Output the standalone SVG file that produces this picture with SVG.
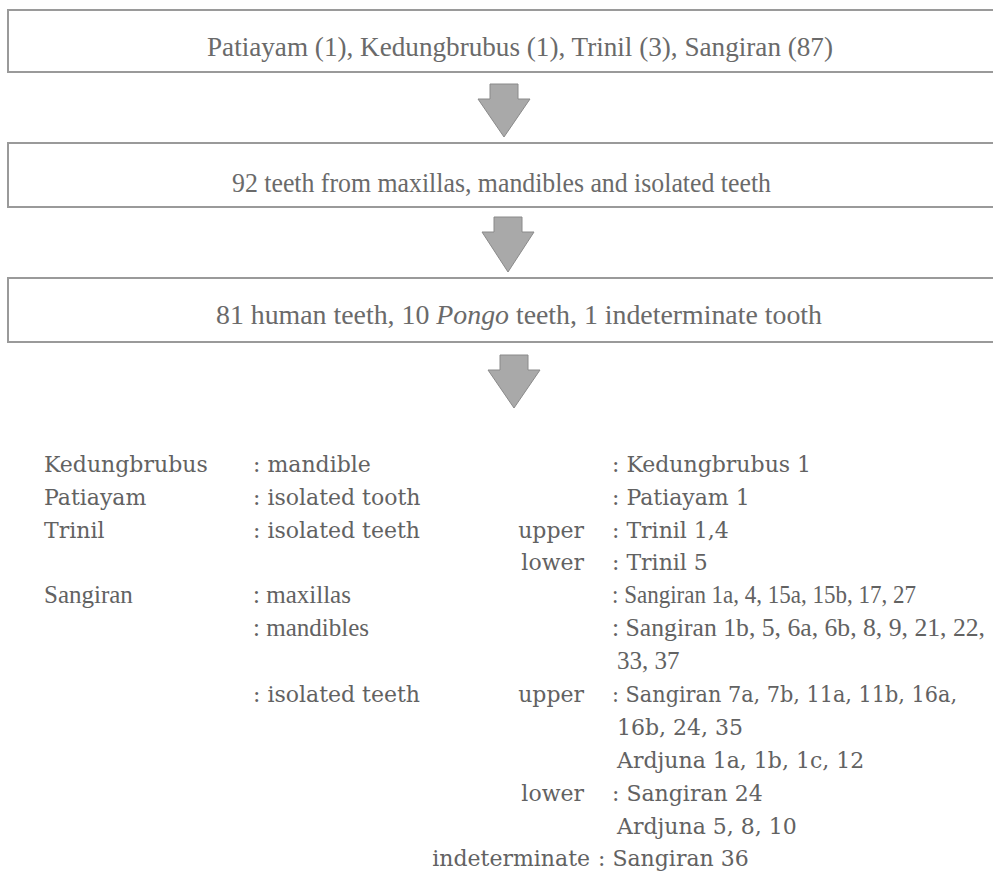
<svg xmlns="http://www.w3.org/2000/svg" width="993" height="873" viewBox="0 0 993 873">
<style>
.box{fill:#fff;stroke:#9a9a9a;stroke-width:2}
.bt{font-family:"Liberation Serif",serif;font-size:27px;fill:#6a6a6a}
.arr{fill:#a9a9a9;stroke:#8a8a8a;stroke-width:1}
.w{font-family:"DejaVu Serif",serif;font-size:22px;fill:#626262}
.c{font-family:"Liberation Serif",serif;font-size:25px;fill:#626262}
.r{text-anchor:end}
</style>
<rect width="993" height="873" fill="#fff"/>
<g id="box1"><rect class="box" x="8" y="10" width="995" height="62"/><text class="bt" x="207" y="56" textLength="626" lengthAdjust="spacingAndGlyphs">Patiayam (1), Kedungbrubus (1), Trinil (3), Sangiran (87)</text></g>
<g id="box2"><rect class="box" x="8" y="143" width="995" height="64"/><text class="bt" x="232" y="192" textLength="539" lengthAdjust="spacingAndGlyphs">92 teeth from maxillas, mandibles and isolated teeth</text></g>
<g id="box3"><rect class="box" x="8" y="278" width="995" height="64"/><text class="bt" x="216" y="324" textLength="606" lengthAdjust="spacingAndGlyphs">81 human teeth, 10 <tspan font-style="italic">Pongo</tspan> teeth, 1 indeterminate tooth</text></g>
<g id="connectors">
<path class="arr" d="M490,84 H518 V99 H530 L504,137 L478,99 H490 Z"/>
<path class="arr" d="M494,217 H522 V232 H534 L508,272 L482,232 H494 Z"/>
<path class="arr" d="M500,355 H528 V370 H540 L514,408 L488,370 H500 Z"/>
</g>
<g id="list">
<text class="w" x="44" y="472">Kedungbrubus</text>
<text class="w" x="253" y="472">: mandible</text>
<text class="w" x="612" y="472">: Kedungbrubus 1</text>
<text class="w" x="44" y="505">Patiayam</text>
<text class="w" x="253" y="505">: isolated tooth</text>
<text class="w" x="612" y="505">: Patiayam 1</text>
<text class="w" x="44" y="538">Trinil</text>
<text class="w" x="253" y="538">: isolated teeth</text>
<text class="w r" x="584" y="538">upper</text>
<text class="w" x="612" y="538">: Trinil 1,4</text>
<text class="w r" x="584" y="570">lower</text>
<text class="w" x="612" y="570">: Trinil 5</text>
<text class="c" x="44" y="603">Sangiran</text>
<text class="c" x="253" y="603">: maxillas</text>
<text class="c" x="612" y="603" textLength="304" lengthAdjust="spacingAndGlyphs">: Sangiran 1a, 4, 15a, 15b, 17, 27</text>
<text class="c" x="253" y="636">: mandibles</text>
<text class="c" x="612" y="636" textLength="373" lengthAdjust="spacingAndGlyphs">: Sangiran 1b, 5, 6a, 6b, 8, 9, 21, 22,</text>
<text class="c" x="617" y="669">33, 37</text>
<text class="w" x="253" y="702">: isolated teeth</text>
<text class="w r" x="584" y="702">upper</text>
<text class="w" x="612" y="702" textLength="345" lengthAdjust="spacingAndGlyphs">: Sangiran 7a, 7b, 11a, 11b, 16a,</text>
<text class="w" x="617" y="735">16b, 24, 35</text>
<text class="w" x="617" y="768">Ardjuna 1a, 1b, 1c, 12</text>
<text class="w r" x="584" y="801">lower</text>
<text class="w" x="612" y="801">: Sangiran 24</text>
<text class="w" x="617" y="834">Ardjuna 5, 8, 10</text>
<text class="w r" x="590" y="866">indeterminate</text>
<text class="w" x="598" y="866">: Sangiran 36</text>
</g>
</svg>
